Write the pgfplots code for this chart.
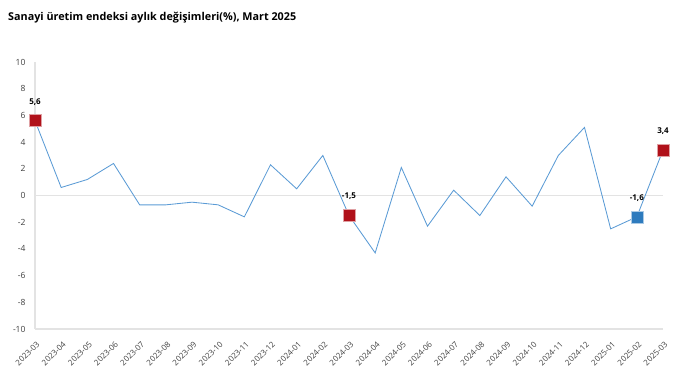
\documentclass[border=0pt]{standalone}
\usepackage{pgfplots}
\pgfplotsset{compat=1.18}
\usepackage{fontspec}
\setmainfont{Open Sans}
\definecolor{linec}{HTML}{5B9BD5}
\definecolor{redm}{HTML}{B0111A}
\definecolor{bluem}{HTML}{2E7BBE}
\definecolor{axc}{HTML}{E3E3E3}
\definecolor{tickc}{HTML}{404040}
\begin{document}
\begin{tikzpicture}[x=1pt,y=1pt]
\path[use as bounding box] (0,0) rectangle (686,390);
\node[anchor=west,font=\bfseries\fontsize{10.8}{13}\selectfont,inner sep=0pt] at (8,372) {Sanayi üretim endeksi aylık değişimleri(\%), Mart 2025};
\begin{axis}[
  at={(35pt,61pt)}, anchor=south west,
  scale only axis, width=628pt, height=267pt,
  xmin=0, xmax=24, ymin=-10, ymax=10,
  axis lines=left,
  axis line style={draw=axc, line width=1.2pt, -},
  major tick length=0pt,
  ytick={-10,-8,...,10},
  xtick={0,...,24},
  xticklabels={2023-03,2023-04,2023-05,2023-06,2023-07,2023-08,2023-09,2023-10,2023-11,2023-12,2024-01,2024-02,2024-03,2024-04,2024-05,2024-06,2024-07,2024-08,2024-09,2024-10,2024-11,2024-12,2025-01,2025-02,2025-03},
  /pgf/number format/assume math mode=true,
  yticklabel style={font=\fontsize{8.5}{10}\selectfont, text=tickc, xshift=-6pt},
  xticklabel style={font=\fontsize{8}{9}\selectfont, text=tickc, xshift=4pt, yshift=-13pt, rotate=45, anchor=east, inner sep=1pt},
  extra y ticks={0}, extra y tick labels={},
  extra y tick style={grid=major, major grid style={draw=axc, line width=1.2pt}},
  clip=false,
]
\addplot[linec, line width=0.85pt, mark=none] coordinates {
(0,5.6) (1,0.6) (2,1.2) (3,2.4) (4,-0.7) (5,-0.7) (6,-0.5) (7,-0.7) (8,-1.6) (9,2.3) (10,0.5) (11,3.0)
(12,-1.5) (13,-4.3) (14,2.1) (15,-2.3) (16,0.4) (17,-1.5) (18,1.4) (19,-0.8) (20,3.0) (21,5.1) (22,-2.5) (23,-1.6) (24,3.4)};
\addplot[only marks, mark=square*, mark size=6pt, mark options={fill=redm, draw=redm!40!white, line width=0.6pt},
  nodes near coords, point meta=y,
  every node near coord/.style={font=\bfseries\fontsize{8}{9}\selectfont, text=black, anchor=south, yshift=12pt},
  /pgf/number format/.cd, fixed, precision=1, use comma, assume math mode=true]
  coordinates {(0,5.6) (12,-1.5) (24,3.4)};
\addplot[only marks, mark=square*, mark size=6pt, mark options={fill=bluem, draw=bluem!40!white, line width=0.6pt},
  nodes near coords, point meta=y,
  every node near coord/.style={font=\bfseries\fontsize{8}{9}\selectfont, text=black, anchor=south, yshift=12pt},
  /pgf/number format/.cd, fixed, precision=1, use comma, assume math mode=true]
  coordinates {(23,-1.6)};
\end{axis}
\end{tikzpicture}
\end{document}
